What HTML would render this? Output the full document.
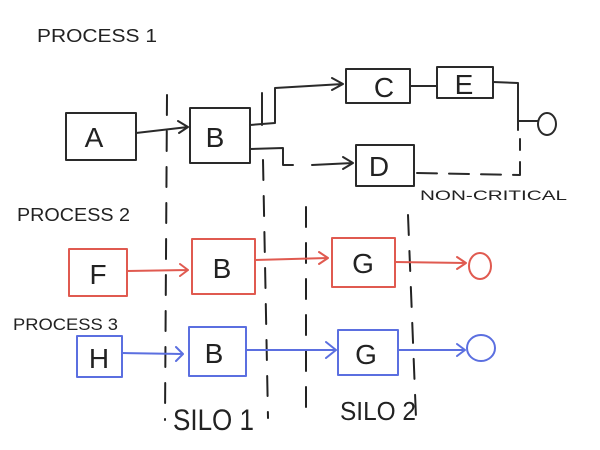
<!DOCTYPE html>
<html><head><meta charset="utf-8"><style>
html,body{margin:0;padding:0;background:#fff;}
svg{display:block;}
text{font-family:"Liberation Sans",sans-serif;}
</style></head><body>
<svg width="600" height="450" viewBox="0 0 600 450" xmlns="http://www.w3.org/2000/svg">
<g fill="none" stroke-linecap="round" stroke-linejoin="round">
<!-- silo dashed lines -->
<g stroke="#222" stroke-width="2" stroke-dasharray="20,16">
<line x1="167" y1="95" x2="165" y2="420"/>
<line x1="263" y1="160" x2="268" y2="418"/>
<line x1="306" y1="207" x2="306" y2="420"/>
<line x1="408" y1="215" x2="416" y2="418"/>
</g>
<!-- process 1 -->
<g stroke="#2a2a2a" stroke-width="2">
<rect x="66" y="113" width="70" height="47"/>
<rect x="190" y="108" width="60" height="55"/>
<rect x="346" y="69" width="64" height="34"/>
<rect x="437" y="67" width="56" height="31"/>
<rect x="356" y="145" width="58" height="41"/>
<path d="M136 133 L188 127 M178 121 L188 127 L179 133"/>
<path d="M250 125 L275 123 L275 88 L343 84 M332 78 L343 84 L332 90"/>
<path d="M262 93 L262 125"/>
<path d="M250 149 L283 148 L283 165 L293 165"/>
<path d="M312 165 L353 163 M343 157 L353 163 L343 169"/>
<path d="M410 86 L437 86 M493 82 L518 83 L518 130"/>
<path d="M518 121 L538 121"/>
<ellipse cx="547" cy="124" rx="9" ry="11"/>
<path d="M417 173 L520 175 L520 139" stroke-dasharray="20,12"/>
</g>
<!-- process 2 red -->
<g stroke="#e05a50" stroke-width="2">
<rect x="69" y="249" width="58" height="47"/>
<rect x="192" y="239" width="63" height="55"/>
<rect x="332" y="238" width="63" height="49"/>
<path d="M127 271 L188 270 M180 264 L188 270 L180 276"/>
<path d="M255 260 L328 258 M319 252 L328 258 L319 264"/>
<path d="M395 262 L466 263 M457 257 L466 263 L457 269"/>
<ellipse cx="480" cy="266" rx="11" ry="13"/>
</g>
<!-- process 3 blue -->
<g stroke="#5b6fe0" stroke-width="2">
<rect x="77" y="336" width="45" height="41"/>
<rect x="189" y="327" width="57" height="49"/>
<rect x="338" y="330" width="60" height="45"/>
<path d="M122 353 L183 354 M176 347 L183 354 L176 361"/>
<path d="M246 350 L336 350 M326 342 L336 350 L326 358"/>
<path d="M398 350 L465 350 M457 344 L465 350 L457 356"/>
<ellipse cx="481" cy="348" rx="14" ry="13"/>
</g>
</g>
<g fill="#222" font-size="28" text-anchor="middle">
<text x="94" y="147">A</text>
<text x="215" y="147">B</text>
<text x="384" y="97">C</text>
<text x="464" y="94">E</text>
<text x="379" y="176">D</text>
<text x="98" y="284">F</text>
<text x="222" y="278">B</text>
<text x="363" y="273">G</text>
<text x="99" y="368">H</text>
<text x="214" y="363">B</text>
<text x="366" y="364">G</text>
</g>
<g fill="#222" font-size="18">
<text x="37" y="42" textLength="120" lengthAdjust="spacingAndGlyphs">PROCESS 1</text>
<text x="17" y="221" textLength="113" lengthAdjust="spacingAndGlyphs">PROCESS 2</text>
<text x="13" y="330" font-size="17" textLength="105" lengthAdjust="spacingAndGlyphs">PROCESS 3</text>
<text x="420" y="200" font-size="14" textLength="147" lengthAdjust="spacingAndGlyphs">NON-CRITICAL</text>
<text x="173" y="430" font-size="30" textLength="81" lengthAdjust="spacingAndGlyphs">SILO 1</text>
<text x="340" y="420" font-size="26" textLength="76" lengthAdjust="spacingAndGlyphs">SILO 2</text>
</g>
</svg>
</body></html>
